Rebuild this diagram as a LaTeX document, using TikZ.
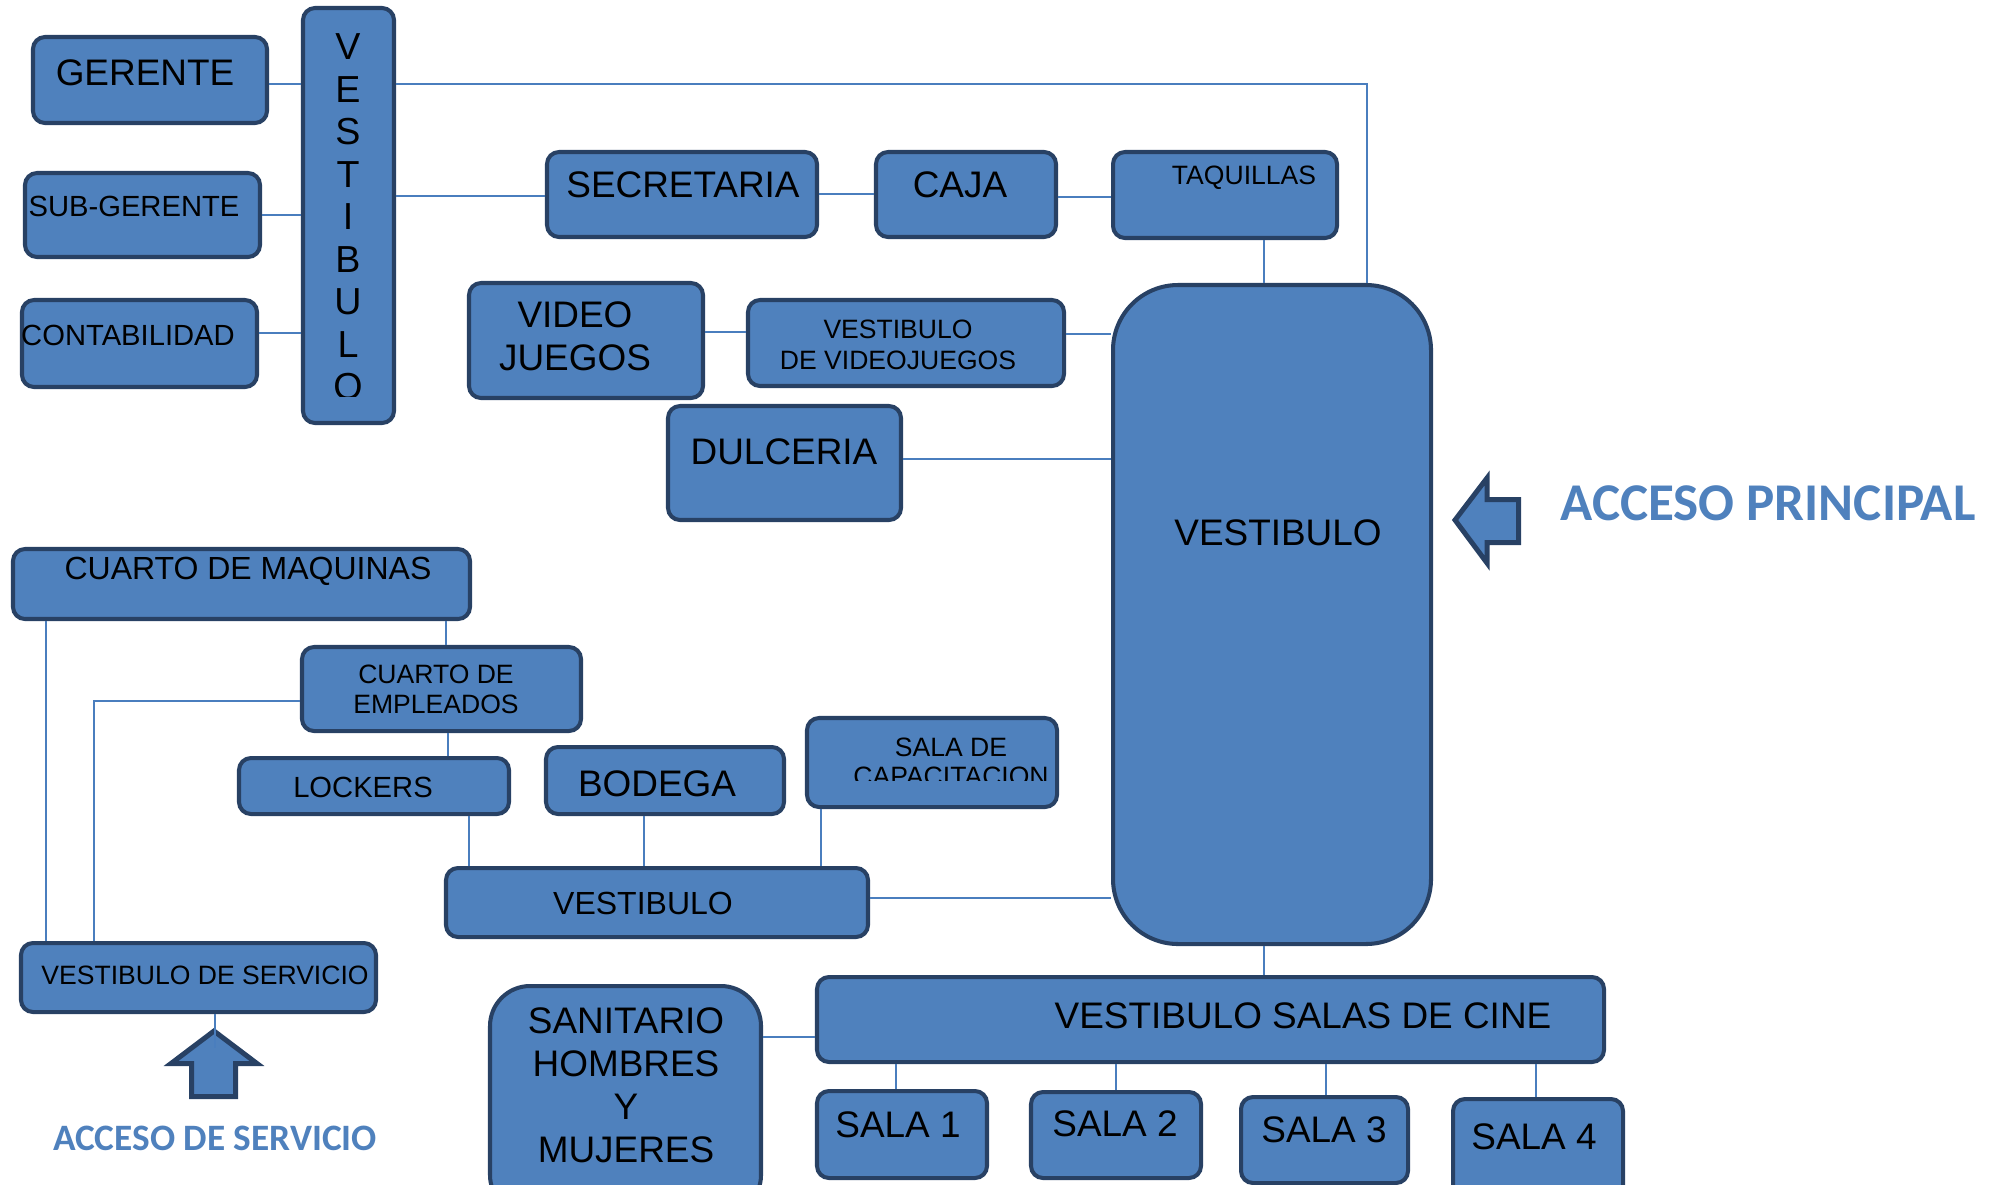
\documentclass[tikz,border=0pt]{standalone}
\usepackage{fontspec}
\setmainfont{Liberation Sans}
\newfontfamily\accfont{Carlito}
\usepackage{tikz}
\usetikzlibrary{fit,calc,positioning}

\definecolor{roomfill}{RGB}{79,129,189}
\definecolor{roomedge}{RGB}{40,65,100}
\definecolor{wire}{RGB}{74,126,190}

\begin{document}
\begin{tikzpicture}[x=0.01cm,y=-0.01cm]
	\useasboundingbox (0,0) rectangle (1989,1184);

	\tikzstyle{room}=[draw=roomedge,fill=roomfill,line width=1.15pt,rounded corners=1.2mm,inner sep=0pt]
	\tikzstyle{hall}=[room,rounded corners=6.5mm]
	\tikzstyle{wc}=[room,rounded corners=4mm]
	\tikzstyle{ta}=[inner sep=0pt,align=center,font=\fontsize{10.5}{12.2}\selectfont]
	\tikzstyle{tb}=[inner sep=0pt,align=center,font=\fontsize{9.1}{10.5}\selectfont]
	\tikzstyle{tc}=[inner sep=0pt,align=center,font=\fontsize{8.3}{9.5}\selectfont]
	\tikzstyle{td}=[inner sep=0pt,align=center,font=\fontsize{7.55}{8.8}\selectfont]
	\tikzstyle{l}=[wire,line width=0.5pt]
	\tikzstyle{door}=[draw=roomedge,fill=roomfill,line width=1.42pt]
	\tikzstyle{acc}=[inner sep=0pt,text=roomfill,font=\accfont\bfseries]

	%% Oficinas
	\node [room,fit={(33,37) (267,123)}] (ger) {};
	\node [ta] (ger-t) at (145,73) {GERENTE};
	\node [room,fit={(25,173) (260,257)}] (sub) {};
	\node [tc] (sub-t) at (134,206) {SUB-GERENTE};
	\node [room,fit={(22,300) (257,387)}] (cont) {};
	\node [tc] (cont-t) at (128,335) {CONTABILIDAD};
	\node [room,fit={(303,8) (394,423)}] (vv) {};
	\begin{scope}
		\clip (303,8) rectangle (394,396);
		\foreach \c [count=\i from 0] in {V,E,S,T,I,B,U,L,O}
			\node [ta,font=\fontsize{10.7}{12}\selectfont] (vv\i) at (348,47+42.5*\i) {\c};
	\end{scope}

	\node [room,fit={(547,152) (817,237)}] (sec) {};
	\node [ta] (sec-t) at (683,185) {SECRETARIA};
	\node [room,fit={(876,152) (1056,237)}] (caja) {};
	\node [ta] (caja-t) at (960,185) {CAJA};
	\node [room,fit={(1113,152) (1337,238)}] (taq) {};
	\node [td] (taq-t) at (1244,178) {TAQUILLAS};

	%% Vestibulo principal
	\node [room,fit={(469,283) (703,398)}] (vj) {};
	\node [ta] (vj-t) at (575,336.5) {VIDEO\\JUEGOS};
	\node [room,fit={(748,300) (1064,386)}] (vvj) {};
	\node [td] (vvj-t) at (898,344.5) {VESTIBULO\\DE VIDEOJUEGOS};
	\node [room,fit={(668,406) (901,520)}] (dul) {};
	\node [ta] (dul-t) at (784,452) {DULCERIA};
	\node [hall,fit={(1113,285) (1431,944)}] (vp) {};
	\node [ta] (vp-t) at (1278,533) {VESTIBULO};

	%% Servicio
	\node [room,fit={(13,549) (470,619)}] (cdm) {};
	\node [tb] (cdm-t) at (248,571) {CUARTO DE MAQUINAS};
	\node [room,fit={(302,647) (581,731)}] (cde) {};
	\node [td,font=\fontsize{7.55}{8.5}\selectfont] (cde-t) at (436,689) {CUARTO DE\\EMPLEADOS};
	\node [room,fit={(239,758) (509,814)}] (lock) {};
	\node [tc] (lock-t) at (363,787) {LOCKERS};
	\node [room,fit={(546,747) (784,814)}] (bod) {};
	\node [ta] (bod-t) at (657,784) {BODEGA};
	\node [room,fit={(807,718) (1057,807)}] (scap) {};
	\begin{scope}
		\clip (807,718) rectangle (1057,780);
		\node [td,font=\fontsize{7.55}{8.3}\selectfont] (scap-t) at (951,762) {SALA DE\\CAPACITACION};
	\end{scope}
	\node [room,fit={(446,868) (868,937)}] (vl) {};
	\node [tb] (vl-t) at (643,903) {VESTIBULO};
	\node [room,fit={(21,943) (376,1012)}] (vds) {};
	\node [td] (vds-t) at (205,975) {VESTIBULO DE SERVICIO};

	%% Salas
	\node [wc,fit={(490,986) (761,1215)}] (san) {};
	\node [ta] (san-t) at (626,1085.5) {SANITARIO\\HOMBRES\\Y\\MUJERES};
	\node [room,fit={(817,977) (1604,1062)}] (vsc) {};
	\node [ta] (vsc-t) at (1303,1016) {VESTIBULO SALAS DE CINE};
	\node [room,fit={(817,1091) (987,1178)}] (s1) {};
	\node [ta] (s1-t) at (898,1125) {SALA 1};
	\node [room,fit={(1031,1092) (1201,1178)}] (s2) {};
	\node [ta] (s2-t) at (1115,1124) {SALA 2};
	\node [room,fit={(1241,1097) (1408,1183)}] (s3) {};
	\node [ta] (s3-t) at (1324,1130) {SALA 3};
	\node [room,fit={(1453,1099) (1623,1210)}] (s4) {};
	\node [ta] (s4-t) at (1534,1137) {SALA 4};

	%% Accesos
	\coordinate (tipp) at (1455,520);
	\coordinate (tips) at (214,1031);
	\draw [door] (tipp) -- (1487,478) -- (1487,499.5) -- (1518.5,499.5) -- (1518.5,542.5) -- (1487,542.5) -- (1487,563) -- cycle;
	\draw [door] (tips) -- (257,1063.5) -- (235.5,1063.5) -- (235.5,1096.5) -- (191.5,1096.5) -- (191.5,1063.5) -- (171,1063.5) -- cycle;
	\node [acc,font=\accfont\bfseries\fontsize{15.1}{17}\selectfont] (accp) at (1768,503) {ACCESO PRINCIPAL};
	\node [acc,font=\accfont\bfseries\fontsize{10.6}{12}\selectfont] (accs) at (215,1138) {ACCESO DE SERVICIO};

	%% Conexiones
	\draw [l] (ger.east |- 0,84) -- (vv.west |- 0,84);
	\draw [l] (sub.east |- 0,215) -- (vv.west |- 0,215);
	\draw [l] (cont.east |- 0,333) -- (vv.west |- 0,333);
	\draw [l] (vv.east |- 0,84) -| (vp.north -| 1367,0);
	\draw [l] (vv.east |- 0,196) -- (sec.west |- 0,196);
	\draw [l] (sec.east |- 0,194) -- (caja.west |- 0,194);
	\draw [l] (caja.east |- 0,197) -- (taq.west |- 0,197);
	\draw [l] (taq.south -| 1264,0) -- (vp.north -| 1264,0);
	\draw [l] (vj.east |- 0,332) -- (vvj.west |- 0,332);
	\draw [l] (vvj.east |- 0,334) -- (vp.west |- 0,334);
	\draw [l] (dul.east |- 0,459) -- (vp.west |- 0,459);

	\draw [l] (cdm.south -| 446,0) -- (cde.north -| 446,0);
	\draw [l] (cdm.south -| 46,0) -- (vds.north -| 46,0);
	\draw [l] (cde.west |- 0,701) -| (vds.north -| 94,0);
	\draw [l] (cde.south -| 448,0) -- (lock.north -| 448,0);
	\draw [l] (lock.south -| 469,0) -- (vl.north -| 469,0);
	\draw [l] (bod.south -| 644,0) -- (vl.north -| 644,0);
	\draw [l] (scap.south -| 821,0) -- (vl.north -| 821,0);
	\draw [l] (vl.east |- 0,898) -- (vp.west |- 0,898);
	\draw [l] (vds.south -| 215,0) -- ($(tips)+(1,17)$);

	\draw [l] (vp.south -| 1264,0) -- (vsc.north -| 1264,0);
	\draw [l] (san.east |- 0,1037) -- (vsc.west |- 0,1037);
	\foreach \s/\x in {s1/896,s2/1116,s3/1326,s4/1536}
		\draw [l] (vsc.south -| \x,0) -- (\s.north -| \x,0);
\end{tikzpicture}
\end{document}
